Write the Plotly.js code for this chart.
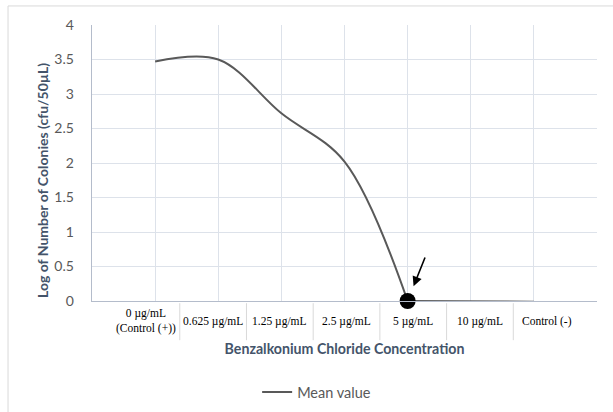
<!DOCTYPE html>
<html>
<head>
<meta charset="utf-8">
<script src="https://cdn.plot.ly/plotly-3.0.1.min.js"></script>
<style>html,body{margin:0;padding:0;background:#fff;}#chart{width:613px;height:412px;}</style>
</head>
<body>
<div id="chart"></div>
<script>
// Categories (tick labels) and mean values
var categories = ["0 µg/mL<br>(Control (+))", "0.625 µg/mL", "1.25 µg/mL", "2.5 µg/mL", "5 µg/mL", "10 µg/mL", "Control (-)"];
var positions = [1, 2, 3, 4, 5, 6, 7];
var meanValues = [3.47, 3.50, 2.72, 2.02, 0.00, -0.01, -0.01];
var highlightIndex = 4; // 5 µg/mL

var curveX = positions.slice(0, highlightIndex + 1);
var curveY = meanValues.slice(0, highlightIndex + 1);
var flatX = positions.slice(highlightIndex);
var flatY = meanValues.slice(highlightIndex);

var lineColor = '#595959';
var traces = [
  {x: curveX, y: curveY, type: 'scatter', mode: 'lines', name: 'Mean value',
   line: {color: lineColor, width: 2, shape: 'spline', smoothing: 1}, legendgroup: 'm', hoverinfo: 'skip'},
  {x: flatX, y: flatY, type: 'scatter', mode: 'lines', name: 'Mean value', showlegend: false,
   line: {color: lineColor, width: 2}, legendgroup: 'm', hoverinfo: 'skip'},
  {x: [positions[highlightIndex]], y: [meanValues[highlightIndex]], type: 'scatter', mode: 'markers',
   showlegend: false, cliponaxis: false, marker: {color: '#000', size: 16}, hoverinfo: 'skip'}
];

var annotations = categories.map(function (c, i) {
  return {xref: 'x2', yref: 'paper', x: positions[i], y: -0.074, text: c, showarrow: false,
          xanchor: 'center', yanchor: 'middle', font: {family: 'Liberation Serif', size: 11.5, color: '#000'}};
});
annotations.push({xref: 'x', yref: 'y', x: positions[highlightIndex], y: meanValues[highlightIndex], text: '',
  showarrow: true, ax: 18, ay: -45, arrowhead: 2, arrowsize: 1.2, arrowwidth: 1.6, arrowcolor: '#000', standoff: 16});
// y-axis title (Excel places it slightly below centre)
annotations.push({xref: 'paper', yref: 'paper', x: -0.097, y: 0.435, xanchor: 'center', yanchor: 'middle',
  textangle: -90, showarrow: false, text: 'Log of Number of Colonies (cfu/50µL)',
  font: {family: 'Lato', size: 14, color: '#44546a', weight: 'bold'}});

var shapes = [];
for (var i = 0; i < positions.length - 1; i++) {
  var d = (positions[i] + positions[i + 1]) / 2;
  shapes.push({type: 'line', xref: 'x2', yref: 'paper', x0: d, x1: d, y0: -0.008, y1: -0.142,
               line: {color: '#d9d9d9', width: 1}});
}
// outer chart frame (top and left edges visible)
shapes.push({type: 'line', xref: 'paper', yref: 'paper', x0: -0.1663, x1: 1.04, y0: 1.069, y1: 1.069, line: {color: '#d9d9d9', width: 1}});
shapes.push({type: 'line', xref: 'paper', yref: 'paper', x0: -0.1663, x1: -0.1663, y0: 1.069, y1: -0.41, line: {color: '#d9d9d9', width: 1}});

var layout = {
  width: 613, height: 412,
  margin: {l: 92, r: 16, t: 25, b: 111, autoexpand: false},
  paper_bgcolor: '#fff', plot_bgcolor: '#fff',
  showlegend: true,
  legend: {orientation: 'h', x: 0.327, xanchor: 'left', y: -0.33, yanchor: 'middle',
           font: {family: 'Lato', size: 14.5, color: '#595959'}},
  xaxis: {range: [0, 8], dtick: 1, tick0: 0, showgrid: true, gridcolor: '#dde2ea', gridwidth: 1,
          showticklabels: false, zeroline: false, showline: true, linecolor: '#b4bccb', linewidth: 1.3,
          ticks: '', title: {text: 'Benzalkonium Chloride Concentration', standoff: 42,
          font: {family: 'Lato', size: 14.2, color: '#44546a', weight: 'bold'}}},
  xaxis2: {overlaying: 'x', anchor: 'y', range: [0.184, 7.755], showgrid: false, showticklabels: false,
           zeroline: false, showline: false, ticks: ''},
  yaxis: {range: [0, 4], dtick: 0.5, tick0: 0, showgrid: true, gridcolor: '#dde2ea', gridwidth: 1,
          zeroline: false, showline: true, linecolor: '#b4bccb', linewidth: 1.3, ticks: '',
          ticklabelstandoff: 14,
          tickfont: {family: 'Lato', size: 14, color: '#595959'}},
  annotations: annotations,
  shapes: shapes
};

Plotly.newPlot('chart', traces, layout, {displayModeBar: false, staticPlot: true});
</script>
</body>
</html>
